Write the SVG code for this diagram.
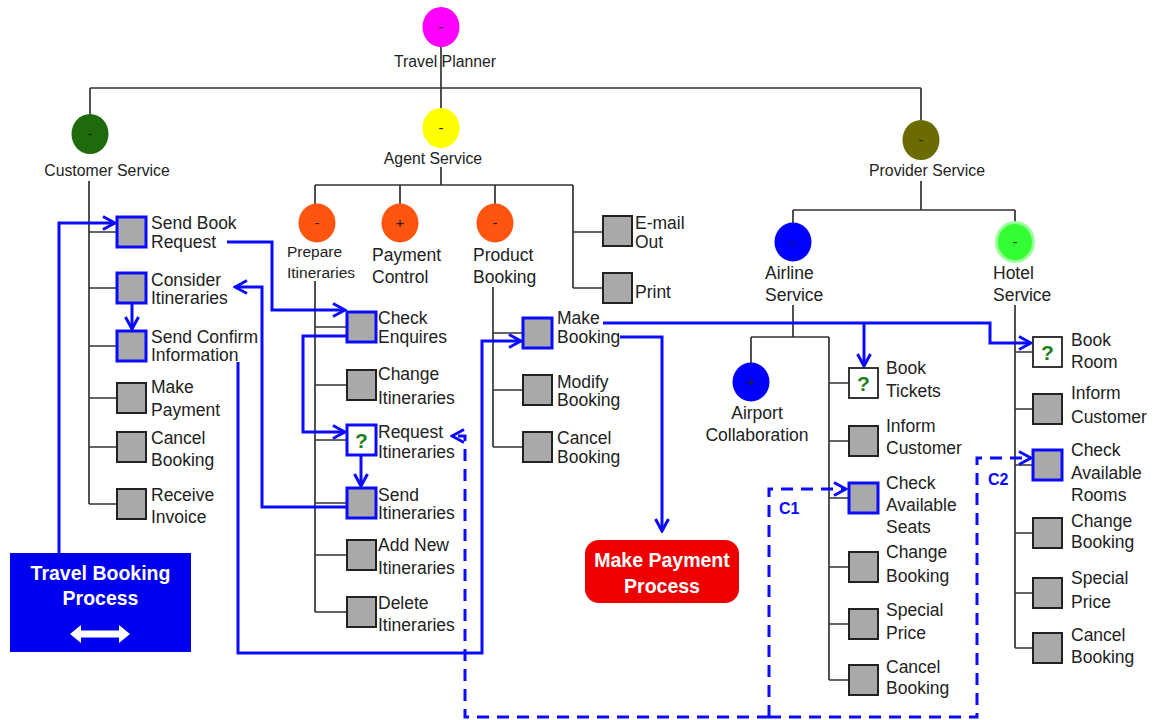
<svg xmlns="http://www.w3.org/2000/svg" width="1159" height="720" viewBox="0 0 1159 720">
<defs>
<style>
.t{stroke:#333;stroke-width:1.7;fill:none}
.b{fill:#a9a9a9;stroke:#222;stroke-width:2}
.bb{fill:#a9a9a9;stroke:#0a0aff;stroke-width:3}
.qb{fill:#fff;stroke:#222;stroke-width:1.8}
.qbb{fill:#fff;stroke:#0a0aff;stroke-width:3}
.q{font-family:"Liberation Sans",Arial,sans-serif;font-weight:bold;font-size:21px;fill:#1f7f1f;text-anchor:middle}
.l{font-family:"Liberation Sans",Arial,sans-serif;font-size:17.5px;fill:#222}
.top{font-family:"Liberation Sans",Arial,sans-serif;font-size:15.8px;fill:#222;text-anchor:middle}
.pi{font-family:"Liberation Sans",Arial,sans-serif;font-size:15.5px;fill:#222}
.s{font-family:"Liberation Sans",Arial,sans-serif;font-size:15px;fill:#222;text-anchor:middle}
.w{font-family:"Liberation Sans",Arial,sans-serif;font-weight:bold;font-size:19.5px;fill:#fff;text-anchor:middle}
.c{font-family:"Liberation Sans",Arial,sans-serif;font-weight:bold;font-size:16px;fill:#0a0aff}
.f{stroke:#0a0aff;stroke-width:3;fill:none;marker-end:url(#ah)}
.d{stroke:#0a0aff;stroke-width:3;fill:none;stroke-dasharray:12 8;marker-end:url(#ah)}
</style>
<marker id="ah" markerUnits="userSpaceOnUse" viewBox="0 0 16 16" markerWidth="16" markerHeight="16" refX="14" refY="8" orient="auto">
<path d="M2,1.5 L14,8 L2,14.5" fill="none" stroke="#0a0aff" stroke-width="3" stroke-dasharray="none"/>
</marker>
</defs>
<rect width="1159" height="720" fill="#fff"/>

<g id="connectors">
<g id="tree">
<path class="t" d="M441,47 V88 M90,88 H921 M90,88 V114 M441,88 V108 M921,88 V120"/>
<path class="t" d="M89,181 V504 M89,232 H117 M89,288 H117 M89,346 H117 M89,398 H117 M89,447 H117 M89,504 H117"/>
<path class="t" d="M441,167 V185 M315,185 H573 M315,185 V204 M400,185 V204 M495,185 V204 M573,185 V288 M573,232 H603 M573,288 H603"/>
<path class="t" d="M315,281 V612 M315,327 H347 M315,385 H347 M315,440 H347 M315,503 H347 M315,555 H347 M315,612 H347"/>
<path class="t" d="M493,287 V447 M493,333 H523 M493,390 H523 M493,447 H523"/>
<path class="t" d="M921,181 V210 M793,210 H1015 M793,210 V223 M1015,210 V223"/>
<path class="t" d="M793,305 V337 M751,337 H829 M751,337 V363 M829,337 V680 M829,383 H849 M829,441 H849 M829,498 H849 M829,567 H849 M829,624 H849 M829,680 H849"/>
<path class="t" d="M1015,305 V648 M1015,352 H1033 M1015,409 H1033 M1015,465 H1033 M1015,533 H1033 M1015,593 H1033 M1015,648 H1033"/>
</g>
<g id="flows">
<path class="f" d="M59,553 V223 H115"/>
<path class="f" d="M227,242 H272 V310 H345"/>
<path class="f" d="M347,507 H262 V287 H235"/>
<path class="f" d="M132,303 V329"/>
<path class="f" d="M347,336 H303 V432 H345"/>
<path class="f" d="M361,455 V486"/>
<path class="f" d="M238,362 V653 H482 V341 H521"/>
<path class="f" d="M620,337 H662 V531"/>
<path class="f" d="M603,323 H990 V343 H1031"/>
<path class="f" d="M864,323 V366"/>
<path class="d" d="M769,717 H465 V436 H452"/>
<path class="d" d="M769,717 V489 H846"/>
<path class="d" d="M769,717 H977 V458 H1031"/>
</g>
</g>

<g id="travel-planner"><ellipse cx="441" cy="27" rx="18.5" ry="20" fill="#ff00ff"/><text class="s" x="441" y="32">-</text><text class="top" x="445" y="67">Travel Planner</text></g>
<g id="customer-service"><ellipse cx="90" cy="134" rx="18.5" ry="20" fill="#1e6a0c"/><text class="s" x="90" y="139">-</text><text class="top" x="107" y="176">Customer Service</text></g>
<g id="agent-service"><ellipse cx="441" cy="128" rx="18.5" ry="20" fill="#ffff00"/><text class="s" x="441" y="133">-</text><text class="top" x="433" y="164">Agent Service</text></g>
<g id="provider-service"><ellipse cx="921" cy="140" rx="18.5" ry="20" fill="#6b6b00"/><text class="s" x="921" y="145">-</text><text class="top" x="927" y="176">Provider Service</text></g>

<g id="prepare-itineraries"><ellipse cx="317" cy="223" rx="18.5" ry="19.5" fill="#ff5511"/><text class="s" x="317" y="228">-</text><text class="pi" x="287" y="257">Prepare<tspan x="287" y="278">Itineraries</tspan></text></g>
<g id="payment-control"><ellipse cx="400" cy="223" rx="18.5" ry="19.5" fill="#ff5511"/><text class="s" x="400" y="228">+</text><text class="l" x="372" y="261">Payment<tspan x="372" y="283">Control</tspan></text></g>
<g id="product-booking"><ellipse cx="495" cy="223" rx="18.5" ry="19.5" fill="#ff5511"/><text class="s" x="495" y="228">-</text><text class="l" x="473" y="261">Product<tspan x="473" y="283">Booking</tspan></text></g>

<g id="airline-service"><ellipse cx="793" cy="242" rx="18.5" ry="19.5" fill="#0000ff"/><text class="s" x="793" y="247">-</text><text class="l" x="765" y="279">Airline<tspan x="765" y="301">Service</tspan></text></g>
<g id="hotel-service"><ellipse cx="1015" cy="242" rx="18.5" ry="19.5" fill="#33ff33" stroke="#99ff99" stroke-width="3"/><text class="s" x="1015" y="247">-</text><text class="l" x="993" y="279">Hotel<tspan x="993" y="301">Service</tspan></text></g>
<g id="airport-collaboration"><ellipse cx="751" cy="382" rx="18.5" ry="19.5" fill="#0000ff"/><text class="s" x="751" y="387">+</text><text class="l" x="757" y="419" text-anchor="middle">Airport<tspan x="757" y="441">Collaboration</tspan></text></g>

<g id="send-book-request"><rect class="bb" x="117" y="217" width="29" height="30"/><text class="l" x="151" y="229">Send Book<tspan x="151" y="248">Request</tspan></text></g>
<g id="consider-itineraries"><rect class="bb" x="117" y="273" width="29" height="30"/><text class="l" x="151" y="286">Consider<tspan x="151" y="304">Itineraries</tspan></text></g>
<g id="send-confirm-information"><rect class="bb" x="117" y="331" width="29" height="30"/><text class="l" x="151" y="343">Send Confirm<tspan x="151" y="361">Information</tspan></text></g>
<g id="make-payment"><rect class="b" x="117" y="383" width="29" height="30"/><text class="l" x="151" y="393">Make<tspan x="151" y="416">Payment</tspan></text></g>
<g id="cancel-booking-c"><rect class="b" x="117" y="432" width="29" height="30"/><text class="l" x="151" y="444">Cancel<tspan x="151" y="466">Booking</tspan></text></g>
<g id="receive-invoice"><rect class="b" x="117" y="489" width="29" height="30"/><text class="l" x="151" y="501">Receive<tspan x="151" y="523">Invoice</tspan></text></g>

<g id="check-enquires"><rect class="bb" x="347" y="312" width="29" height="30"/><text class="l" x="378" y="324">Check<tspan x="378" y="343">Enquires</tspan></text></g>
<g id="change-itineraries"><rect class="b" x="347" y="370" width="29" height="30"/><text class="l" x="378" y="380">Change<tspan x="378" y="404">Itineraries</tspan></text></g>
<g id="request-itineraries"><rect class="qbb" x="347" y="425" width="29" height="30"/><text class="q" x="361.5" y="448">?</text><text class="l" x="378" y="438">Request<tspan x="378" y="458">Itineraries</tspan></text></g>
<g id="send-itineraries"><rect class="bb" x="347" y="488" width="29" height="30"/><text class="l" x="378" y="501">Send<tspan x="378" y="519">Itineraries</tspan></text></g>
<g id="add-new-itineraries"><rect class="b" x="347" y="540" width="29" height="30"/><text class="l" x="378" y="551">Add New<tspan x="378" y="574">Itineraries</tspan></text></g>
<g id="delete-itineraries"><rect class="b" x="347" y="597" width="29" height="30"/><text class="l" x="378" y="609">Delete<tspan x="378" y="631">Itineraries</tspan></text></g>

<g id="make-booking"><rect class="bb" x="523" y="318" width="29" height="30"/><text class="l" x="557" y="324">Make<tspan x="557" y="343">Booking</tspan></text></g>
<g id="modify-booking"><rect class="b" x="523" y="375" width="29" height="30"/><text class="l" x="557" y="388">Modify<tspan x="557" y="406">Booking</tspan></text></g>
<g id="cancel-booking-p"><rect class="b" x="523" y="432" width="29" height="30"/><text class="l" x="557" y="444">Cancel<tspan x="557" y="463">Booking</tspan></text></g>

<g id="email-out"><rect class="b" x="603" y="216" width="29" height="30"/><text class="l" x="635" y="229">E-mail<tspan x="635" y="248">Out</tspan></text></g>
<g id="print"><rect class="b" x="603" y="273" width="29" height="30"/><text class="l" x="635" y="298">Print</text></g>

<g id="book-tickets"><rect class="qb" x="849" y="368" width="29" height="30"/><text class="q" x="863.5" y="391">?</text><text class="l" x="886" y="374">Book<tspan x="886" y="397">Tickets</tspan></text></g>
<g id="inform-customer-a"><rect class="b" x="849" y="426" width="29" height="30"/><text class="l" x="886" y="432">Inform<tspan x="886" y="454">Customer</tspan></text></g>
<g id="check-available-seats"><rect class="bb" x="849" y="483" width="29" height="30"/><text class="l" x="886" y="489">Check<tspan x="886" y="511">Available</tspan><tspan x="886" y="533">Seats</tspan></text></g>
<g id="change-booking-a"><rect class="b" x="849" y="552" width="29" height="30"/><text class="l" x="886" y="558">Change<tspan x="886" y="582">Booking</tspan></text></g>
<g id="special-price-a"><rect class="b" x="849" y="609" width="29" height="30"/><text class="l" x="886" y="616">Special<tspan x="886" y="639">Price</tspan></text></g>
<g id="cancel-booking-a"><rect class="b" x="849" y="665" width="29" height="30"/><text class="l" x="886" y="673">Cancel<tspan x="886" y="694">Booking</tspan></text></g>

<g id="book-room"><rect class="qb" x="1033" y="337" width="29" height="30"/><text class="q" x="1047.5" y="360">?</text><text class="l" x="1071" y="346">Book<tspan x="1071" y="368">Room</tspan></text></g>
<g id="inform-customer-h"><rect class="b" x="1033" y="394" width="29" height="30"/><text class="l" x="1071" y="399">Inform<tspan x="1071" y="423">Customer</tspan></text></g>
<g id="check-available-rooms"><rect class="bb" x="1033" y="450" width="29" height="30"/><text class="l" x="1071" y="456">Check<tspan x="1071" y="479">Available</tspan><tspan x="1071" y="501">Rooms</tspan></text></g>
<g id="change-booking-h"><rect class="b" x="1033" y="518" width="29" height="30"/><text class="l" x="1071" y="527">Change<tspan x="1071" y="548">Booking</tspan></text></g>
<g id="special-price-h"><rect class="b" x="1033" y="578" width="29" height="30"/><text class="l" x="1071" y="584">Special<tspan x="1071" y="608">Price</tspan></text></g>
<g id="cancel-booking-h"><rect class="b" x="1033" y="633" width="29" height="30"/><text class="l" x="1071" y="641">Cancel<tspan x="1071" y="663">Booking</tspan></text></g>

<g id="travel-booking-process"><rect x="10" y="553" width="181" height="99" fill="#0000ee"/><text class="w" x="100.5" y="580">Travel Booking</text><text class="w" x="100.5" y="605">Process</text><path d="M70,634 L81,625 L81,630.5 L119,630.5 L119,625 L130,634 L119,643 L119,637.5 L81,637.5 L81,643 Z" fill="#fff"/></g>
<g id="make-payment-process"><rect x="585" y="540" width="154" height="63" rx="14" fill="#ee0000"/><text class="w" x="662" y="567">Make Payment</text><text class="w" x="662" y="593">Process</text></g>
<g id="labels-c"><text class="c" x="779" y="514">C1</text><text class="c" x="988" y="485">C2</text></g>
</svg>
